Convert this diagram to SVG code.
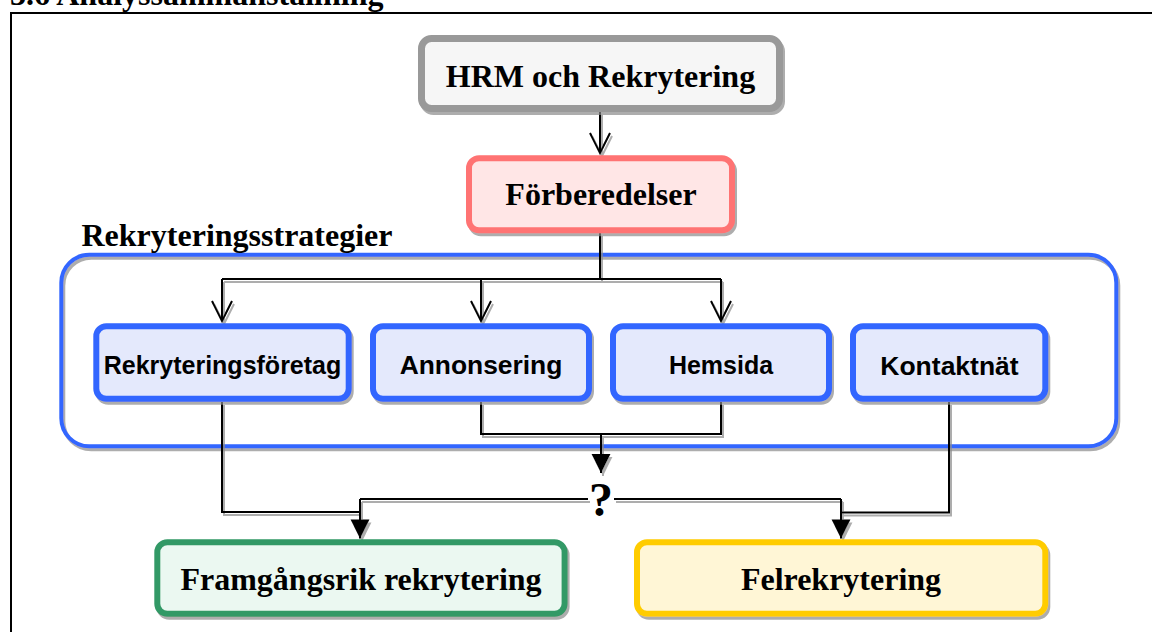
<svg xmlns="http://www.w3.org/2000/svg" width="1152" height="632" viewBox="0 0 1152 632">
  <style>
    .serif { font-family: "Liberation Serif", "Times New Roman", serif; font-weight: bold; fill: #000; }
    .sans { font-family: "Liberation Sans", Arial, sans-serif; font-weight: bold; fill: #000; }
    .box { stroke-width: 6; }
    .conn { fill: none; stroke: #000; stroke-width: 2; }
  </style>
  <defs>
    <filter id="sh" x="-5%" y="-5%" width="115%" height="125%">
      <feDropShadow dx="2" dy="3" stdDeviation="0.6" flood-color="#8a8a8a" flood-opacity="0.7"/>
    </filter>
    <marker id="open" markerUnits="userSpaceOnUse" markerWidth="24" markerHeight="24" viewBox="-1 -1 24 24" refX="20" refY="10" orient="auto" overflow="visible">
      <path d="M0,0 L20,10 L0,20" fill="none" stroke="#000" stroke-width="2"/>
    </marker>
    <marker id="fill" markerUnits="userSpaceOnUse" markerWidth="20" markerHeight="20" viewBox="0 0 18 18" refX="17" refY="8.5" orient="auto" overflow="visible">
      <path d="M0,0 L17,8.5 L0,17 Z" fill="#000"/>
    </marker>
  </defs>

  <!-- page frame and title -->
  <g id="frame">
    <path d="M11,632 V13 H1152" fill="none" stroke="#000" stroke-width="2"/>
    <text class="serif" x="10" y="5" font-size="32">3.6 Analyssammanställning</text>
  </g>

  <g id="container">
    <rect x="61.3" y="254.7" width="1055" height="191.6" rx="28" fill="none" stroke="#3366ff" stroke-width="4" filter="url(#sh)"/>
    <text class="serif" x="81.5" y="246" font-size="32">Rekryteringsstrategier</text>
  </g>

  <g id="connectors" filter="url(#sh)">
    <path class="conn" d="M600,112 V153" marker-end="url(#open)"/>
    <path class="conn" d="M600,233 V279"/>
    <path class="conn" d="M222,279 H721"/>
    <path class="conn" d="M222,279 V321" marker-end="url(#open)"/>
    <path class="conn" d="M481,279 V321" marker-end="url(#open)"/>
    <path class="conn" d="M721,279 V321" marker-end="url(#open)"/>
    <path class="conn" d="M481,402 V434 H721 V402"/>
    <path class="conn" d="M601,434 V473" marker-end="url(#fill)"/>
    <path class="conn" d="M222,402 V512 H360"/>
    <path class="conn" d="M360,499 H588"/>
    <path class="conn" d="M614,499 H841"/>
    <path class="conn" d="M360,499 V538.5" marker-end="url(#fill)"/>
    <path class="conn" d="M841,499 V538.5" marker-end="url(#fill)"/>
    <path class="conn" d="M949,402 V512.5 H841"/>
  </g>
  <text id="question" class="serif" x="601" y="516" font-size="48" text-anchor="middle">?</text>

  <g id="hrm">
    <rect x="421.5" y="38.5" width="358" height="70" rx="10" fill="#f6f6f6" stroke="#999999" stroke-width="7" filter="url(#sh)"/>
    <text class="serif" x="600.5" y="87" font-size="32" text-anchor="middle">HRM och Rekrytering</text>
  </g>

  <g id="forberedelser">
    <rect x="469" y="158.3" width="263" height="72" rx="10" fill="#ffe6e6" stroke="#ff7373" class="box" filter="url(#sh)"/>
    <text class="serif" x="601" y="205" font-size="32" text-anchor="middle">Förberedelser</text>
  </g>

  <g id="rekryteringsforetag">
    <rect x="96.3" y="326.3" width="252.4" height="72.4" rx="10" fill="#e4e9fc" stroke="#3366ff" class="box" filter="url(#sh)"/>
    <text class="sans" x="222.5" y="374" font-size="25" text-anchor="middle">Rekryteringsföretag</text>
  </g>

  <g id="annonsering">
    <rect x="373" y="326.3" width="216" height="72.4" rx="10" fill="#e4e9fc" stroke="#3366ff" class="box" filter="url(#sh)"/>
    <text class="sans" x="481" y="374" font-size="26.4" text-anchor="middle">Annonsering</text>
  </g>

  <g id="hemsida">
    <rect x="613" y="326.3" width="216" height="72.4" rx="10" fill="#e4e9fc" stroke="#3366ff" class="box" filter="url(#sh)"/>
    <text class="sans" x="721" y="374" font-size="25" text-anchor="middle">Hemsida</text>
  </g>

  <g id="kontaktnat">
    <rect x="853" y="326.3" width="192.3" height="72.4" rx="10" fill="#e4e9fc" stroke="#3366ff" class="box" filter="url(#sh)"/>
    <text class="sans" x="949.5" y="375" font-size="26.5" text-anchor="middle">Kontaktnät</text>
  </g>

  <g id="framgangsrik">
    <rect x="157.3" y="542.3" width="407.3" height="71.4" rx="10" fill="#ebf8f1" stroke="#339966" class="box" filter="url(#sh)"/>
    <text class="serif" x="361" y="590" font-size="32" text-anchor="middle">Framgångsrik rekrytering</text>
  </g>

  <g id="felrekrytering">
    <rect x="637" y="542.3" width="408.3" height="71.4" rx="10" fill="#fff6d6" stroke="#ffcc00" class="box" filter="url(#sh)"/>
    <text class="serif" x="841" y="590" font-size="32" text-anchor="middle">Felrekrytering</text>
  </g>
</svg>
